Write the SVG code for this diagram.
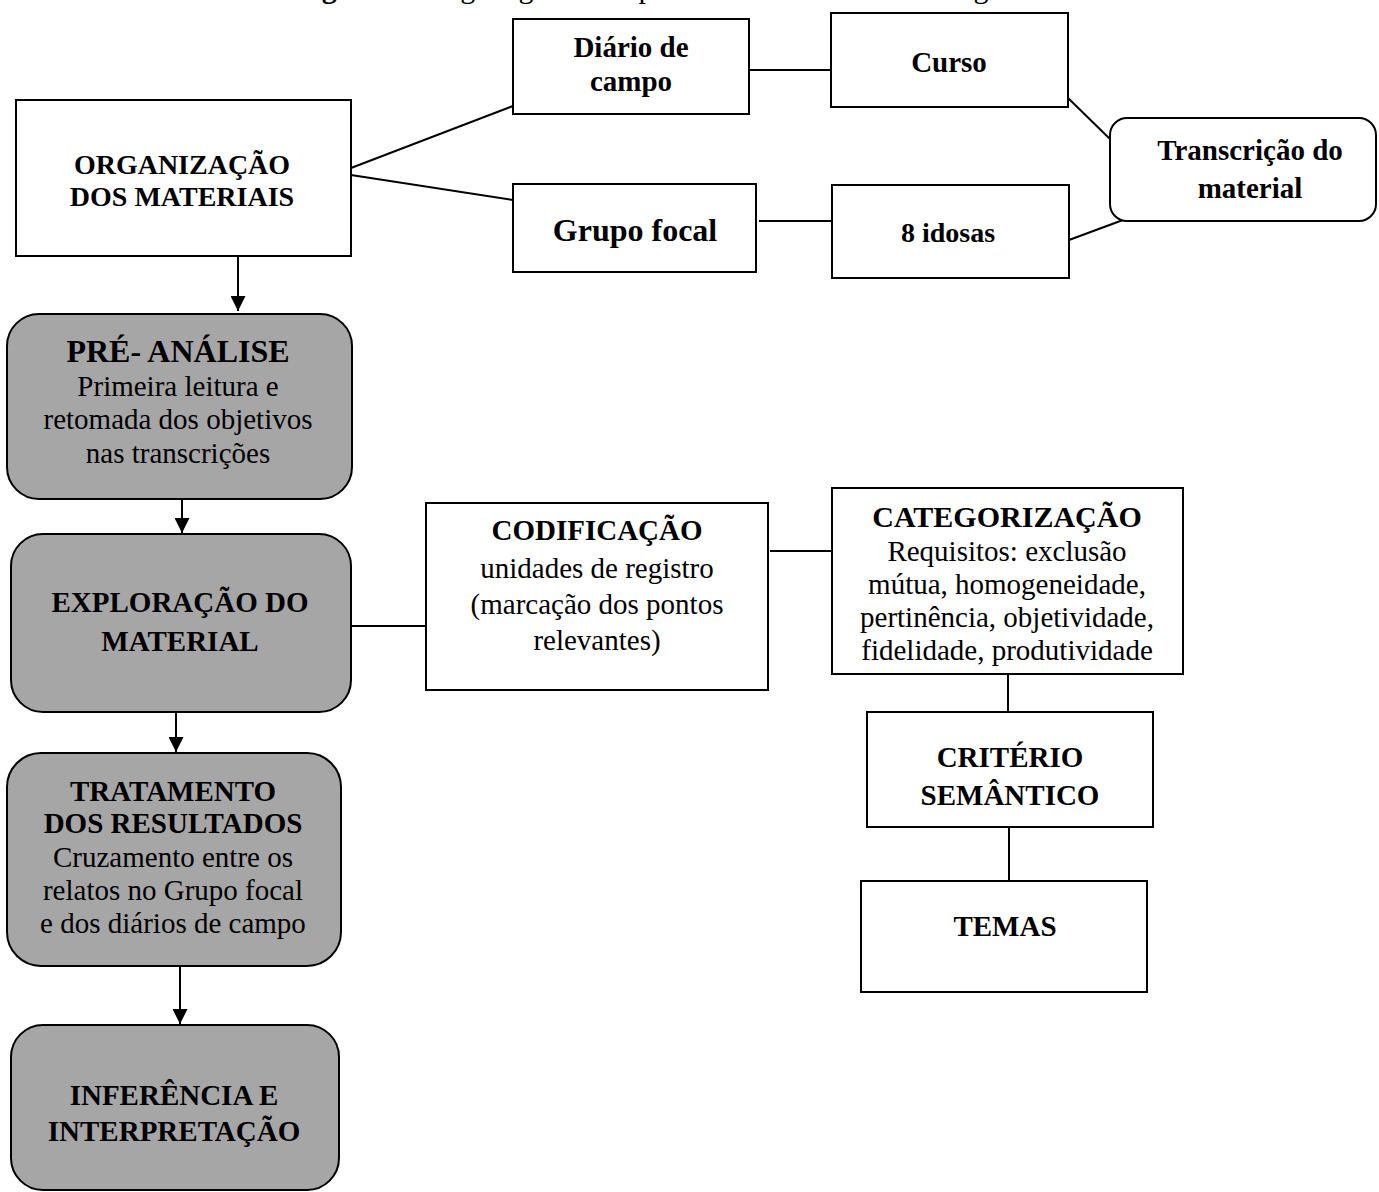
<svg xmlns="http://www.w3.org/2000/svg" width="1379" height="1192" viewBox="0 0 1379 1192">
  <style>
    .box { fill: #ffffff; stroke: #000000; stroke-width: 2; }
    .step { fill: #a6a6a6; stroke: #000000; stroke-width: 2; }
    .link { fill: none; stroke: #000000; stroke-width: 2; }
    text { font-family: "Liberation Serif", "Times New Roman", serif; fill: #000000; text-anchor: middle; }
    .b { font-weight: bold; font-size: 29px; }
    .r { font-size: 29px; }
  </style>
  <defs>
    <marker id="arrow" markerUnits="userSpaceOnUse" markerWidth="16" markerHeight="15" refX="15" refY="7.5" orient="auto">
      <path d="M0,0 L15,7.5 L0,15 Z" fill="#000000"/>
    </marker>
  </defs>
  <rect width="1379" height="1192" fill="#ffffff"/>

  <!-- caption, mostly above the page edge -->
  <text x="295" y="-2" style="text-anchor:start;font-size:30px"><tspan font-weight="bold">Figura 3 -</tspan> Organograma do processo de análise das categorias</text>

  <!-- connectors -->
  <g id="connectors">
    <line class="link" x1="351" y1="168" x2="513" y2="106"/>
    <line class="link" x1="351" y1="175" x2="513" y2="200"/>
    <line class="link" x1="749" y1="70" x2="831" y2="70"/>
    <line class="link" x1="759" y1="221" x2="832" y2="221"/>
    <line class="link" x1="1068" y1="98" x2="1110" y2="139"/>
    <line class="link" x1="1069" y1="240" x2="1123" y2="220"/>
    <line class="link" x1="351" y1="626" x2="426" y2="626"/>
    <line class="link" x1="770" y1="551" x2="832" y2="551"/>
    <line class="link" x1="1008" y1="674" x2="1008" y2="712"/>
    <line class="link" x1="1009" y1="827" x2="1009" y2="881"/>
    <line class="link" x1="238" y1="256" x2="238" y2="311" marker-end="url(#arrow)"/>
    <line class="link" x1="182" y1="499" x2="182" y2="533" marker-end="url(#arrow)"/>
    <line class="link" x1="176" y1="712" x2="176" y2="752" marker-end="url(#arrow)"/>
    <line class="link" x1="180" y1="966" x2="180" y2="1024" marker-end="url(#arrow)"/>
  </g>

  <g id="organizacao">
    <rect class="box" x="16" y="100" width="335" height="156"/>
    <text class="b" x="182" y="174" style="font-size:28px">ORGANIZAÇÃO</text>
    <text class="b" x="182" y="206" style="font-size:28px">DOS MATERIAIS</text>
  </g>

  <g id="diario">
    <rect class="box" x="513" y="19" width="236" height="95"/>
    <text class="b" x="631" y="57">Diário de</text>
    <text class="b" x="631" y="91">campo</text>
  </g>

  <g id="curso">
    <rect class="box" x="831" y="13" width="237" height="94"/>
    <text class="b" x="949" y="72">Curso</text>
  </g>

  <g id="grupo-focal">
    <rect class="box" x="513" y="184" width="243" height="88"/>
    <text class="b" x="635" y="241" style="font-size:32px">Grupo focal</text>
  </g>

  <g id="idosas">
    <rect class="box" x="832" y="185" width="237" height="93"/>
    <text class="b" x="948" y="242" style="font-size:28px">8 idosas</text>
  </g>

  <g id="transcricao">
    <rect class="box" x="1110" y="118" width="266" height="103" rx="17"/>
    <text class="b" x="1250" y="160">Transcrição do</text>
    <text class="b" x="1250" y="198">material</text>
  </g>

  <g id="pre-analise">
    <rect class="step" x="7" y="314" width="345" height="185" rx="32"/>
    <text class="b" x="178" y="362" style="font-size:32px">PRÉ- ANÁLISE</text>
    <text class="r" x="178" y="396">Primeira leitura e</text>
    <text class="r" x="178" y="429">retomada dos objetivos</text>
    <text class="r" x="178" y="463">nas transcrições</text>
  </g>

  <g id="exploracao">
    <rect class="step" x="11" y="534" width="340" height="178" rx="32"/>
    <text class="b" x="180" y="612">EXPLORAÇÃO DO</text>
    <text class="b" x="180" y="651">MATERIAL</text>
  </g>

  <g id="codificacao">
    <rect class="box" x="426" y="503" width="342" height="187"/>
    <text class="b" x="597" y="540">CODIFICAÇÃO</text>
    <text class="r" x="597" y="578">unidades de registro</text>
    <text class="r" x="597" y="614">(marcação dos pontos</text>
    <text class="r" x="597" y="650">relevantes)</text>
  </g>

  <g id="categorizacao">
    <rect class="box" x="832" y="488" width="351" height="186"/>
    <text class="b" x="1007" y="527" style="font-size:30px">CATEGORIZAÇÃO</text>
    <text class="r" x="1007" y="561">Requisitos: exclusão</text>
    <text class="r" x="1007" y="594">mútua, homogeneidade,</text>
    <text class="r" x="1007" y="627">pertinência, objetividade,</text>
    <text class="r" x="1007" y="660">fidelidade, produtividade</text>
  </g>

  <g id="criterio">
    <rect class="box" x="867" y="712" width="286" height="115"/>
    <text class="b" x="1010" y="767">CRITÉRIO</text>
    <text class="b" x="1010" y="805">SEMÂNTICO</text>
  </g>

  <g id="temas">
    <rect class="box" x="861" y="881" width="286" height="111"/>
    <text class="b" x="1005" y="936">TEMAS</text>
  </g>

  <g id="tratamento">
    <rect class="step" x="7" y="753" width="334" height="213" rx="34"/>
    <text class="b" x="173" y="801">TRATAMENTO</text>
    <text class="b" x="173" y="833">DOS RESULTADOS</text>
    <text class="r" x="173" y="867">Cruzamento entre os</text>
    <text class="r" x="173" y="900">relatos no Grupo focal</text>
    <text class="r" x="173" y="933">e dos diários de campo</text>
  </g>

  <g id="inferencia">
    <rect class="step" x="11" y="1025" width="328" height="165" rx="32"/>
    <text class="b" x="174" y="1105">INFERÊNCIA E</text>
    <text class="b" x="174" y="1141">INTERPRETAÇÃO</text>
  </g>
</svg>
